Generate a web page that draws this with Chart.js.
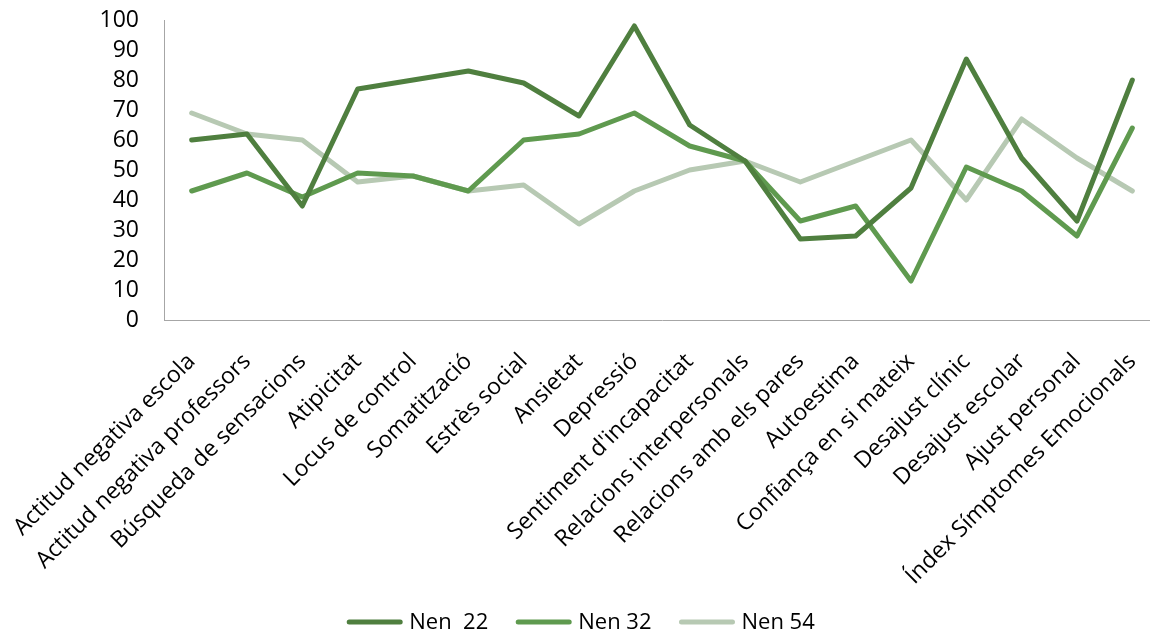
<!DOCTYPE html>
<html lang="ca">
<head>
  <meta charset="UTF-8" />
  <title>Perfil BASC</title>
  <script src="https://cdn.jsdelivr.net/npm/chart.js"></script>
  <style>
    html, body {
      margin: 0;
      padding: 0;
      background: #ffffff;
      overflow: hidden;
    }
    .chart-wrap {
      position: relative;
      width: 1162px;
      height: 634px;
    }
  </style>
</head>
<body>
  <div class="chart-wrap">
    <canvas id="perfilChart"></canvas>
  </div>

  <script>
    // Escales del perfil
    const escales = [
      'Actitud negativa escola',
      'Actitud negativa professors',
      'Búsqueda de sensacions',
      'Atipicitat',
      'Locus de control',
      'Somatització',
      'Estrès social',
      'Ansietat',
      'Depressió',
      "Sentiment d'incapacitat",
      'Relacions interpersonals',
      'Relacions amb els pares',
      'Autoestima',
      'Confiança en si mateix',
      'Desajust clínic',
      'Desajust escolar',
      'Ajust personal',
      'Índex Símptomes Emocionals'
    ];

    const nen22 = [60, 62, 38, 77, 80, 83, 79, 68, 98, 65, 53, 27, 28, 44, 87, 54, 33, 80];
    const nen32 = [43, 49, 41, 49, 48, 43, 60, 62, 69, 58, 53, 33, 38, 13, 51, 43, 28, 64];
    const nen54 = [69, 62, 60, 46, 48, 43, 45, 32, 43, 50, 53, 46, 53, 60, 40, 67, 54, 43];

    const yTicks = [0, 10, 20, 30, 40, 50, 60, 70, 80, 90, 100];

    const FONT = "'Open Sans', sans-serif";

    function serie(label, data, color) {
      return {
        label: label,
        data: data,
        borderColor: color,
        backgroundColor: color,
        borderWidth: 5,
        pointRadius: 0,
        pointHoverRadius: 0,
        tension: 0,
        borderCapStyle: 'round',
        borderJoinStyle: 'round',
        fill: false
      };
    }

    // llegenda a sota: mostra de línia + nom, tot centrat
    const llegenda = {
      id: 'llegenda',
      afterDraw(chart) {
        const c = chart.ctx;
        const lineLen = 55, gapText = 7, gapItem = 28, y = 622;
        c.save();
        c.font = '22px ' + FONT;
        c.textBaseline = 'middle';
        c.textAlign = 'left';
        const items = chart.data.datasets.map(ds => ({
          ds: ds,
          w: lineLen + gapText + c.measureText(ds.label).width
        }));
        const total = items.reduce((s, it) => s + it.w, 0) + gapItem * (items.length - 1);
        let x = 581 - total / 2;
        items.forEach(it => {
          c.strokeStyle = it.ds.borderColor;
          c.lineWidth = 5;
          c.lineCap = 'round';
          c.beginPath();
          c.moveTo(x + 2, y);
          c.lineTo(x + lineLen - 2, y);
          c.stroke();
          c.fillStyle = '#000000';
          c.fillText(it.ds.label, x + lineLen + gapText, y + 1);
          x += it.w + gapItem;
        });
        c.restore();
      }
    };

    // mides fixes dels eixos, sense el farciment automàtic de les etiquetes
    function sensePadding(scale) {
      scale.paddingLeft = 0;
      scale.paddingRight = 0;
      scale.paddingTop = 0;
      scale.paddingBottom = 0;
    }

    const ctx = document.getElementById('perfilChart').getContext('2d');

    new Chart(ctx, {
      type: 'line',
      data: {
        labels: escales,
        datasets: [
          serie('Nen  22', nen22, '#4f7f3f'),
          serie('Nen 32', nen32, '#5f9a4f'),
          serie('Nen 54', nen54, '#b7c9b3')
        ]
      },
      plugins: [llegenda],
      options: {
        responsive: true,
        maintainAspectRatio: false,
        animation: false,
        layout: {
          padding: { top: 20, right: 2, bottom: 45, left: 100 }
        },
        plugins: {
          tooltip: { enabled: false },
          legend: { display: false }
        },
        scales: {
          x: {
            offset: true,
            grid: { display: false, drawTicks: false },
            border: { display: true, color: '#a6a6a6', width: 1 },
            afterFit: (scale) => {
              sensePadding(scale);
              scale.height = 269;
            },
            ticks: {
              autoSkip: false,
              maxRotation: 45,
              minRotation: 45,
              padding: 28,
              color: '#000000',
              font: { family: FONT, size: 23 }
            }
          },
          y: {
            min: 0,
            max: 100,
            afterBuildTicks: (scale) => {
              scale.ticks = yTicks.map(v => ({ value: v }));
            },
            afterFit: (scale) => {
              sensePadding(scale);
              scale.width = 64;
            },
            grid: { display: false, drawTicks: false },
            border: { display: true, color: '#a6a6a6', width: 1 },
            ticks: {
              autoSkip: false,
              padding: 25,
              color: '#000000',
              font: { family: FONT, size: 23 }
            }
          }
        }
      }
    });
  </script>
</body>
</html>
